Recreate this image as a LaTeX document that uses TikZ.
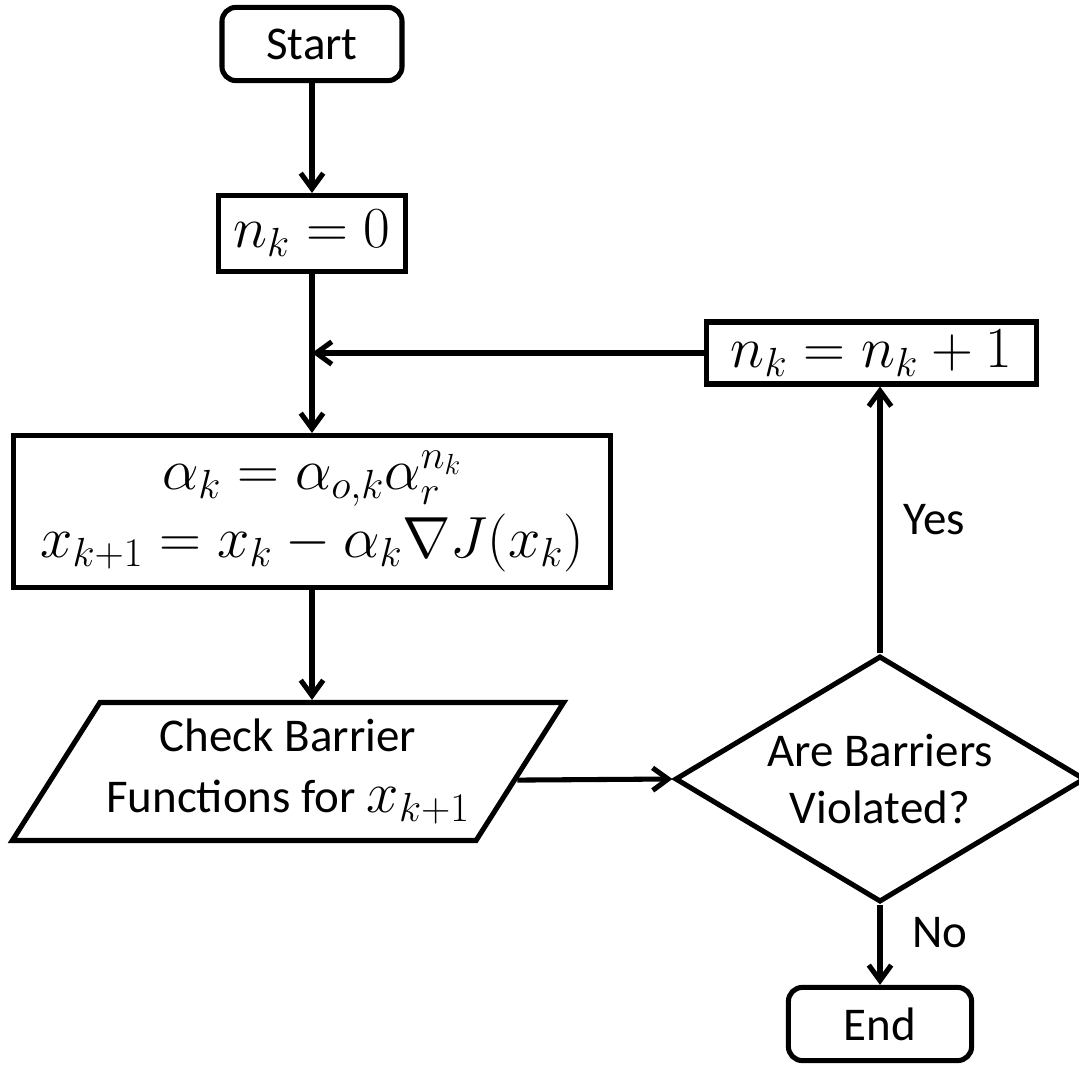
\documentclass[tikz,border=0pt]{standalone}
\usepackage{fix-cm}
\usepackage[no-math]{fontspec}
\setmainfont{Carlito}
\usetikzlibrary{shapes.geometric,arrows.meta,calc}

\newcommand{\textsz}{\fontsize{33.4}{41}\selectfont}
\newcommand{\mathsz}{\fontsize{41.3}{48}\selectfont}
\newcommand{\bigmath}[1]{{\mathsz$#1$}}

\begin{document}
\begin{tikzpicture}[x=0.025cm, y=-0.025cm, line width=3.6pt]

% Fix the canvas to the size of the picture
\useasboundingbox (0,0) rectangle (1079,1065);

% Define styles for the flowchart blocks
\tikzstyle{term} = [draw, rectangle, rounded corners=10pt, font=\textsz, minimum width=4.5cm, minimum height=1.83cm]
\tikzstyle{proc} = [draw, rectangle, font=\mathsz, align=center]
\tikzstyle{io} = [draw, trapezium, trapezium left angle=52.4, trapezium right angle=127.6, trapezium stretches body, font=\fontsize{33.4}{43}\selectfont, align=center]
\tikzstyle{decision} = [draw, diamond, aspect=1.65, inner sep=0pt, font=\textsz, align=center]

% Define styles for arrows and their labels
\tikzstyle{arrow} = [-{Straight Barb[length=11pt,width=16pt]}]
\tikzstyle{lbl} = [right, inner sep=0pt, font=\textsz]

% Blocks
\node[term] (start) at (312,44) {Start};
\node[proc, minimum width=4.68cm, minimum height=1.9cm] (init) at (312,233.5) {$n_k = 0$};
\node[proc, minimum width=8.25cm, minimum height=1.55cm] (update) at (871.5,353) {$n_k = n_k + 1$};
\node[proc, minimum width=14.9cm, minimum height=3.8cm] (grad) at (312,511.5)
	{$\alpha_k = \alpha_{o,k}\alpha_r^{n_k}$\\ $x_{k+1} = x_k - \alpha_k \nabla J(x_k)$};
\node[io, minimum width=13.78cm, minimum height=3.45cm] (check) at (288,771.5)
	{Check Barrier\\ Functions for \bigmath{x_{k+1}}};
\node[decision, minimum width=10.25cm, minimum height=6.15cm] (decide) at (880,779)
	{Are Barriers\\ Violated?};
\node[term, minimum width=4.58cm] (stop) at (880,1024) {End};

% Connectors
\coordinate (join) at (init.south |- update.west);
\draw[arrow] (start) -- (init);
\draw (init) -- (join);
\draw[arrow] (join) -- (grad.north);
\draw[arrow] (update.west) -- (join);
\draw[arrow] (grad.south) -- (grad.south |- check.north);
\draw[arrow] ($(check.bottom right corner)!0.44!(check.top right corner)$) -- (decide.west);
\draw[arrow] (decide.north) -- (decide.north |- update.south)
	node[lbl, pos=0.5, xshift=15pt] {Yes};
\draw[arrow] (decide.south) -- (stop.north)
	node[lbl, pos=0.35, xshift=21pt] {No};

\end{tikzpicture}
\end{document}
